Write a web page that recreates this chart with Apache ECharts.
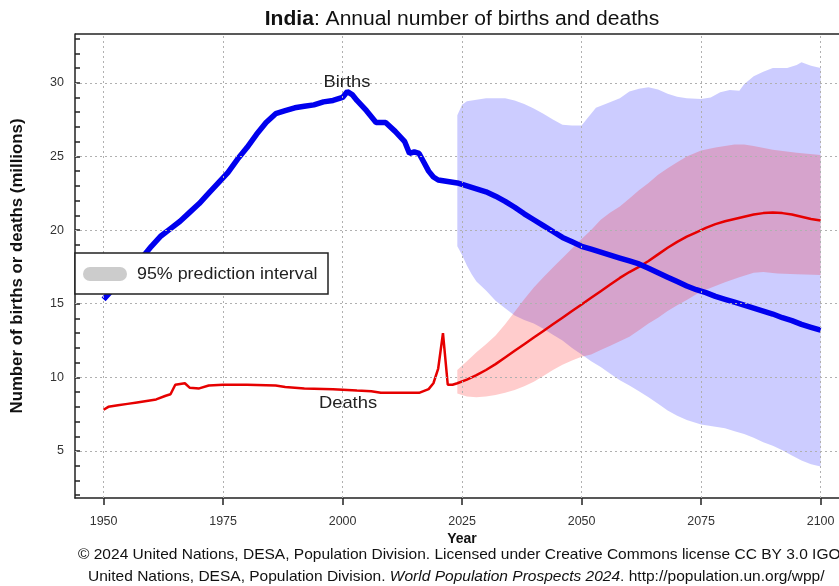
<!DOCTYPE html>
<html>
<head>
<meta charset="utf-8">
<script src="https://cdn.jsdelivr.net/npm/echarts@6/dist/echarts.min.js"></script>
<style>html,body{margin:0;padding:0;background:#fff}#c{width:839px;height:586px}</style>
</head>
<body>
<div id="c"></div>
<script>
// ---- data (millions) ----
const birthsYears = [1950,1952,1954,1956,1958,1960,1962,1964,1966,1968,1970,1972,1974,1976,1978,1980,1982,1984,1986,1988,1990,1992,1994,1996,1998,2000,2001,2002,2003,2005,2007,2009,2011,2013,2014,2015,2016,2017,2018,2019,2020,2022,2024,2026,2028,2030,2032,2034,2036,2038,2040,2042,2044,2046,2048,2050,2052,2054,2056,2058,2060,2062,2064,2066,2068,2070,2072,2074,2076,2078,2080,2082,2084,2086,2088,2090,2092,2094,2096,2098,2100];
const birthsValues = [15.3,16.0,16.7,17.4,18.1,18.9,19.6,20.1,20.6,21.2,21.8,22.5,23.2,23.9,24.8,25.6,26.5,27.3,27.9,28.1,28.3,28.4,28.5,28.7,28.8,29.0,29.4,29.2,28.8,28.1,27.3,27.3,26.7,26.0,25.2,25.3,25.2,24.6,24.0,23.6,23.4,23.3,23.2,23.0,22.8,22.6,22.3,21.95,21.55,21.1,20.7,20.3,19.9,19.5,19.2,18.9,18.7,18.5,18.3,18.1,17.9,17.7,17.4,17.1,16.8,16.5,16.2,15.95,15.75,15.5,15.3,15.1,14.9,14.7,14.5,14.3,14.05,13.85,13.6,13.4,13.2];

const deathsYears = [1950,1951,1953,1955,1957,1959,1961,1963,1964,1965,1967,1968,1970,1972,1975,1980,1986,1988,1992,1998,2003,2006,2008,2016,2018,2019,2020,2021,2022,2023,2024,2026,2028,2030,2032,2034,2036,2038,2040,2042,2044,2046,2048,2050,2052,2054,2056,2058,2060,2062,2064,2066,2068,2070,2072,2074,2076,2078,2080,2082,2084,2086,2088,2090,2092,2094,2096,2098,2100];
const deathsValues = [7.8,8.0,8.1,8.2,8.3,8.4,8.5,8.75,8.85,9.5,9.6,9.3,9.25,9.45,9.5,9.5,9.45,9.35,9.25,9.2,9.1,9.05,8.95,8.95,9.2,9.6,10.6,13.0,9.5,9.5,9.6,9.85,10.15,10.5,10.9,11.35,11.8,12.25,12.7,13.15,13.6,14.05,14.5,14.95,15.4,15.85,16.3,16.75,17.15,17.5,17.9,18.35,18.8,19.2,19.55,19.85,20.15,20.4,20.6,20.75,20.9,21.05,21.15,21.2,21.15,21.05,20.9,20.75,20.65];

const birthsUpperYears = [2024,2025,2026,2028,2030,2034,2036,2038,2040,2042,2044,2046,2048,2050,2051,2053,2055,2058,2060,2062,2064,2066,2068,2070,2072,2075,2077,2079,2081,2083,2084,2086,2088,2090,2093,2095,2096,2098,2100];
const birthsUpperValues = [27.8,28.5,28.75,28.85,28.95,28.95,28.8,28.55,28.25,27.9,27.5,27.15,27.1,27.1,27.5,28.3,28.55,28.95,29.4,29.6,29.7,29.55,29.25,29.05,28.95,28.9,29.0,29.35,29.5,29.45,29.9,30.45,30.75,31.0,31.0,31.2,31.4,31.15,31.0];
const birthsLowerYears = [2024,2025,2026,2027,2028,2030,2032,2034,2036,2038,2040,2042,2044,2046,2048,2050,2052,2054,2056,2058,2060,2062,2064,2066,2068,2070,2072,2075,2078,2080,2082,2084,2086,2088,2090,2092,2094,2096,2098,2100];
const birthsLowerValues = [18.9,18.3,17.6,17.0,16.5,15.9,15.2,14.7,14.2,13.9,13.65,13.3,12.9,12.5,12.0,11.55,11.1,10.7,10.25,9.8,9.45,9.05,8.65,8.2,7.75,7.4,7.1,6.8,6.65,6.55,6.35,6.15,5.9,5.6,5.35,5.05,4.7,4.35,4.1,3.95];

const deathsUpperYears = [2024,2026,2028,2030,2032,2034,2036,2038,2040,2042,2044,2046,2048,2050,2052,2054,2056,2058,2060,2062,2064,2066,2068,2070,2072,2075,2078,2082,2084,2086,2090,2095,2100];
const deathsUpperValues = [10.5,11.1,11.7,12.25,12.85,13.6,14.45,15.3,16.1,16.8,17.45,18.1,18.75,19.4,20.0,20.7,21.2,21.6,22.15,22.7,23.2,23.75,24.2,24.6,25.0,25.4,25.6,25.8,25.8,25.7,25.45,25.25,25.1];
const deathsLowerYears = [2024,2026,2028,2030,2032,2034,2036,2038,2040,2042,2044,2046,2048,2050,2052,2054,2056,2058,2060,2062,2064,2066,2068,2070,2072,2074,2076,2078,2080,2083,2086,2088,2091,2095,2100];
const deathsLowerValues = [8.9,8.7,8.65,8.7,8.8,8.95,9.15,9.4,9.7,10.1,10.5,10.85,11.15,11.4,11.55,11.85,12.15,12.45,12.75,13.2,13.65,14.05,14.5,14.9,15.25,15.65,15.95,16.2,16.45,16.8,17.1,17.15,17.05,17.0,16.95];

const xTickLabels = [1950,1975,2000,2025,2050,2075,2100];
const yTickLabels = [5,10,15,20,25,30];
const yMinorTicks = [2,3,4,5,6,7,8,9,10,11,12,13,14,15,16,17,18,19,20,21,22,23,24,25,26,27,28,29,30,31,32,33];

// ---- helpers ----
const zip = (xs, ys) => xs.map((x, i) => [x, ys[i]]);
const FONT = "'Liberation Sans', Arial, sans-serif";

function bandSeries(name, upX, upY, loX, loY, color) {
  return {
    type: 'custom', name: name, silent: true, clip: true, z: 2,
    data: [[upX[0], upY[0]]],
    encode: { x: 0, y: 1 },
    renderItem: function (params, api) {
      const pts = [];
      for (let i = 0; i < upX.length; i++) pts.push(api.coord([upX[i], upY[i]]));
      for (let i = loX.length - 1; i >= 0; i--) pts.push(api.coord([loX[i], loY[i]]));
      return { type: 'polygon', shape: { points: pts }, style: { fill: color, stroke: null } };
    }
  };
}

const chart = echarts.init(document.getElementById('c'), null, { renderer: 'canvas' });
const option = {
  animation: false,
  backgroundColor: '#fff',
  textStyle: { fontFamily: FONT },
  grid: { left: 75, top: 34, right: 0, bottom: 88, containLabel: false },
  xAxis: {
    type: 'value', min: 1944.02, max: 2103.85,
    axisLine: { show: true, lineStyle: { color: '#222', width: 1.5 } },
    axisTick: { show: true, inside: false, length: 7, customValues: xTickLabels, lineStyle: { color: '#222', width: 1.5 } },
    axisLabel: { customValues: xTickLabels, formatter: v => String(v), color: '#333', fontSize: 12.5, margin: 17, fontFamily: FONT },
    splitLine: { show: false }
  },
  yAxis: {
    type: 'value', min: 1.81, max: 33.31,
    axisLine: { show: true, lineStyle: { color: '#222', width: 1.5 } },
    axisTick: { show: true, inside: true, length: 5, customValues: yMinorTicks, lineStyle: { color: '#222', width: 1.5 } },
    axisLabel: { customValues: yTickLabels, formatter: v => String(v), color: '#333', fontSize: 12.5, margin: 11, fontFamily: FONT },
    splitLine: { show: false }
  },
  series: [
    {
      type: 'line', name: 'grid', silent: true, z: 1,
      data: [[birthsYears[0], birthsValues[0]]], showSymbol: false,
      lineStyle: { opacity: 0 },
      markLine: {
        silent: true, symbol: ['none', 'none'], animation: false,
        label: { show: false },
        lineStyle: { color: '#b0b0b0', type: [2, 3], width: 1 },
        emphasis: { disabled: true },
        data: xTickLabels.map(v => ({ xAxis: v })).concat(yTickLabels.map(v => ({ yAxis: v })))
      }
    },
    bandSeries('Births 95%', birthsUpperYears, birthsUpperValues, birthsLowerYears, birthsLowerValues, 'rgba(0,0,255,0.2)'),
    bandSeries('Deaths 95%', deathsUpperYears, deathsUpperValues, deathsLowerYears, deathsLowerValues, 'rgba(255,0,0,0.2)'),
    {
      type: 'line', name: 'Deaths', z: 3, data: zip(deathsYears, deathsValues),
      showSymbol: false, silent: true,
      lineStyle: { color: '#e60000', width: 2.5 }
    },
    {
      type: 'line', name: 'Births', z: 4, data: zip(birthsYears, birthsValues),
      showSymbol: false, silent: true,
      lineStyle: { color: '#0000ee', width: 5.5 }
    }
  ],
  graphic: [
    { type: 'line', z: 10, shape: { x1: 75, y1: 34, x2: 839, y2: 34 }, style: { stroke: '#222', lineWidth: 1.5 } },
    {
      type: 'text', z: 10, x: 462, y: 20, scaleX: 1.08,
      style: {
        text: '{b|India}: Annual number of births and deaths',
        fontFamily: FONT, fontSize: 19.5, fill: '#111', align: 'center', verticalAlign: 'middle',
        rich: { b: { fontWeight: 'bold', fontSize: 19.5, fontFamily: FONT, fill: '#111' } }
      }
    },
    {
      type: 'text', z: 10, x: 18, y: 266, rotation: Math.PI / 2, scaleX: 1.05,
      style: { text: 'Number of births or deaths (millions)', fontFamily: FONT, fontSize: 16, fontWeight: 'bold', fill: '#111', align: 'center', verticalAlign: 'middle' }
    },
    { type: 'text', z: 10, x: 347, y: 82, scaleX: 1.08, style: { text: 'Births', fontFamily: FONT, fontSize: 17, fill: '#222', align: 'center', verticalAlign: 'middle' } },
    { type: 'text', z: 10, x: 348, y: 403, scaleX: 1.08, style: { text: 'Deaths', fontFamily: FONT, fontSize: 17, fill: '#222', align: 'center', verticalAlign: 'middle' } },
    { type: 'text', z: 10, x: 462, y: 539, style: { text: 'Year', fontFamily: FONT, fontSize: 14, fontWeight: 'bold', fill: '#111', align: 'center', verticalAlign: 'middle' } },
    { type: 'text', z: 10, x: 78, y: 555, scaleX: 1.07, style: { text: '\u00A9 2024 United Nations, DESA, Population Division. Licensed under Creative Commons license CC BY 3.0 IGO.', fontFamily: FONT, fontSize: 14.5, fill: '#111', align: 'left', verticalAlign: 'middle' } },
    {
      type: 'text', z: 10, x: 88, y: 577, scaleX: 1.07,
      style: {
        text: 'United Nations, DESA, Population Division. {i|World Population Prospects 2024}. http://population.un.org/wpp/',
        fontFamily: FONT, fontSize: 14.5, fill: '#111', align: 'left', verticalAlign: 'middle',
        rich: { i: { fontStyle: 'italic', fontFamily: FONT, fontSize: 14.5, fill: '#111' } }
      }
    },
    { type: 'rect', z: 20, shape: { x: 75, y: 253, width: 253, height: 41 }, style: { fill: '#fff', stroke: '#222', lineWidth: 1.5 } },
    { type: 'rect', z: 21, shape: { x: 83, y: 267, width: 44, height: 14, r: 7 }, style: { fill: '#cccccc' } },
    { type: 'text', z: 21, x: 137, y: 274, scaleX: 1.05, style: { text: '95% prediction interval', fontFamily: FONT, fontSize: 17, fill: '#222', align: 'left', verticalAlign: 'middle' } }
  ]
};
chart.setOption(option);
</script>
</body>
</html>
